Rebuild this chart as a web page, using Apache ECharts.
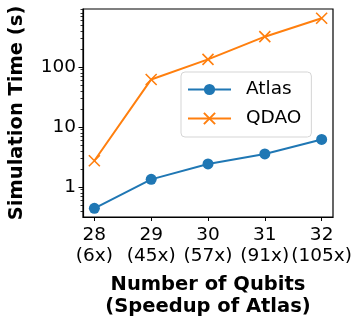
<!DOCTYPE html>
<html>
<head>
<meta charset="utf-8">
<script src="https://cdn.jsdelivr.net/npm/echarts@6/dist/echarts.min.js"></script>
<style>
  html, body { margin: 0; padding: 0; background: #fff; }
  #chart { width: 355px; height: 320px; }
</style>
</head>
<body>
<div id="chart"></div>
<script>
var qubits = [28, 29, 30, 31, 32];
var speedups = ['6x', '45x', '57x', '91x', '105x'];
var atlas = [0.44, 1.34, 2.42, 3.55, 6.2];
var qdao = [2.74, 62, 134, 320, 650];
var yMajor = [1, 10, 100];
var yMinor = [0.4, 0.5, 0.6, 0.7, 0.8, 0.9, 2, 3, 4, 5, 6, 7, 8, 9,
  20, 30, 40, 50, 60, 70, 80, 90, 200, 300, 400, 500, 600, 700, 800, 900];

var font = 'DejaVu Sans';

function pairs(ys) {
  return qubits.map(function (q, i) { return [q, ys[i]]; });
}

var myChart = echarts.init(document.getElementById('chart'), null, { renderer: 'canvas' });

var option = {
  animation: false,
  textStyle: { fontFamily: font },
  grid: {
    left: 83, right: 22, top: 9, bottom: 103,
    show: true, borderColor: '#000', borderWidth: 1.2,
    backgroundColor: 'transparent',
    outerBoundsMode: 'none'
  },
  legend: {
    orient: 'vertical',
    left: 181, top: 72,
    padding: [8, 10, 9, 6],
    itemGap: 10,
    itemWidth: 43, itemHeight: 14,
    backgroundColor: 'rgba(255,255,255,0.8)',
    borderColor: '#d5d5d5', borderWidth: 1, borderRadius: 4,
    textStyle: { fontFamily: font, fontSize: 18.5, color: '#000', padding: [0, 0, 0, 10] },
    data: ['Atlas', 'QDAO']
  },
  xAxis: {
    type: 'value',
    min: 27.8, max: 32.2,
    splitLine: { show: false },
    axisLine: { show: true, lineStyle: { color: '#000', width: 1.2 } },
    axisTick: { show: true, length: 4, customValues: qubits, lineStyle: { color: '#000', width: 1 } },
    axisLabel: {
      customValues: qubits,
      margin: 8,
      fontFamily: font, fontSize: 18.5, lineHeight: 21, color: '#000',
      formatter: function (v) {
        var i = qubits.indexOf(Math.round(v));
        return qubits[i] + '\n(' + speedups[i] + ')';
      }
    },
    name: 'Number of Qubits\n(Speedup of Atlas)',
    nameLocation: 'middle',
    nameGap: 57,
    nameTextStyle: { fontFamily: font, fontSize: 19.5, fontWeight: 'bold', color: '#000', lineHeight: 22 }
  },
  yAxis: [{
    type: 'log',
    logBase: 10,
    min: 0.316, max: 926,
    position: 'left',
    splitLine: { show: false },
    axisLine: { show: true, lineStyle: { color: '#000', width: 1.2 } },
    axisTick: { show: true, length: 4.5, customValues: yMajor, lineStyle: { color: '#000', width: 1 } },
    axisLabel: {
      customValues: yMajor,
      margin: 7,
      fontFamily: font, fontSize: 18.5, color: '#000'
    },
    name: 'Simulation Time (s)',
    nameLocation: 'middle',
    nameGap: 56,
    nameTextStyle: { fontFamily: font, fontSize: 19.5, fontWeight: 'bold', color: '#000' }
  }, {
    type: 'log',
    logBase: 10,
    min: 0.316, max: 926,
    position: 'left',
    splitLine: { show: false },
    axisLine: { show: false },
    axisTick: { show: true, length: 2.5, customValues: yMinor, lineStyle: { color: '#000', width: 0.8 } },
    axisLabel: { show: false }
  }],
  series: [{
    name: 'Atlas',
    type: 'line',
    data: pairs(atlas),
    symbol: 'circle',
    symbolSize: 11,
    itemStyle: { color: '#1f77b4' },
    lineStyle: { color: '#1f77b4', width: 2 }
  }, {
    name: 'QDAO',
    type: 'line',
    data: pairs(qdao),
    symbol: 'path://M0,0L10,10M10,0L0,10',
    symbolSize: 11,
    itemStyle: { color: '#ff7f0e', borderColor: '#ff7f0e', borderWidth: 1.6 },
    lineStyle: { color: '#ff7f0e', width: 2 }
  }]
};

myChart.setOption(option);
</script>
</body>
</html>
